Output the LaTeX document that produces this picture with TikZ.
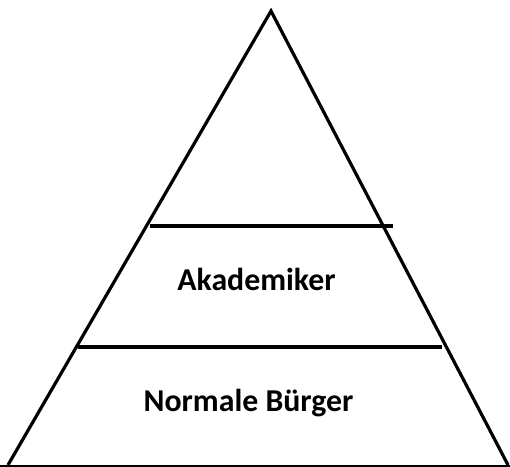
\documentclass[tikz,border=0pt]{standalone}
\usepackage{fontspec}
\setmainfont{Carlito}
\begin{document}
\begin{tikzpicture}[x=1pt,y=-1pt,
  edge/.style={line width=3.2pt},
  label/.style={font=\bfseries\fontsize{31.8}{36}\selectfont, anchor=base, inner sep=0pt}]
\useasboundingbox (0,0) rectangle (510,466);
\coordinate (apex) at (271,11);
\coordinate (bl) at (8,465);
\coordinate (br) at (508,465);
\draw[edge, line join=miter] (bl) -- (apex) -- (br);
\draw[line width=2pt] (0,466) -- (510,466);
\coordinate (l1a) at (150,226);
\coordinate (l1b) at (393,226);
\coordinate (l2a) at (78,347);
\coordinate (l2b) at (442,347);
\draw[edge] (l1a) -- (l1b);
\draw[edge] (l2a) -- (l2b);
\node[label] (ak) at (256.5,290) {Akademiker};
\node[label] (nb) at (248.5,411) {Normale Bürger};
\end{tikzpicture}
\end{document}
